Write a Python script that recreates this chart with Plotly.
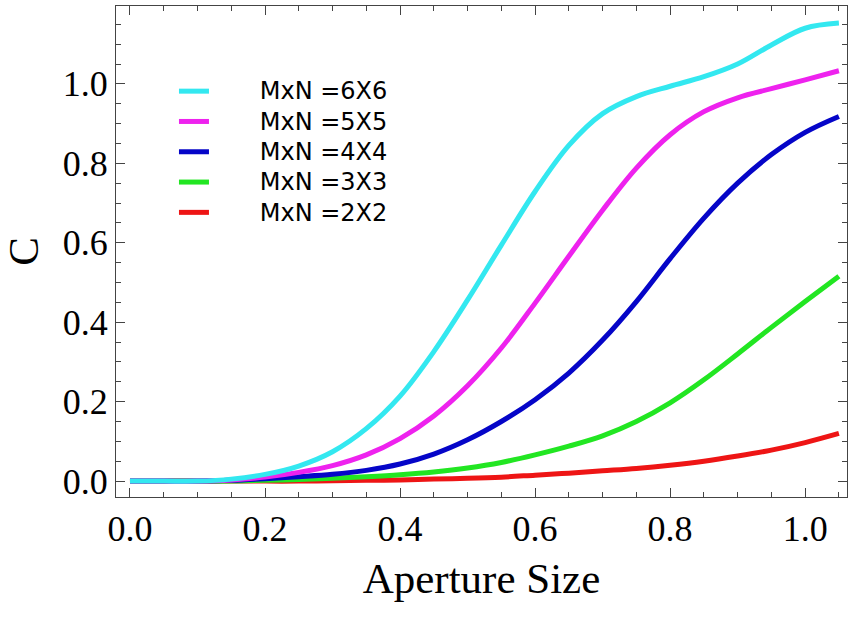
import plotly.graph_objects as go

# aperture sizes (x grid) and C values
aperture = [0.0, 0.05, 0.1, 0.15, 0.2, 0.25, 0.3, 0.35, 0.4, 0.45, 0.5,
            0.55, 0.6, 0.65, 0.7, 0.75, 0.8, 0.85, 0.9, 0.95, 1.0, 1.05]

c_2x2 = [0.0, 0.0, 0.0, 0.0, 0.0, 0.0, 0.001, 0.002, 0.003, 0.005, 0.007,
         0.010, 0.015, 0.020, 0.026, 0.032, 0.040, 0.050, 0.063, 0.078, 0.097, 0.120]
c_3x3 = [0.0, 0.0, 0.0, 0.0, 0.002, 0.004, 0.007, 0.011, 0.016, 0.023, 0.033,
         0.047, 0.066, 0.088, 0.114, 0.150, 0.197, 0.255, 0.320, 0.387, 0.452, 0.516]
c_4x4 = [0.0, 0.0, 0.0, 0.002, 0.006, 0.011, 0.017, 0.027, 0.043, 0.068, 0.104,
         0.150, 0.205, 0.272, 0.355, 0.452, 0.560, 0.662, 0.750, 0.822, 0.878, 0.918]
c_5x5 = [0.0, 0.0, 0.0, 0.003, 0.010, 0.022, 0.039, 0.066, 0.107, 0.164, 0.240,
         0.335, 0.448, 0.566, 0.682, 0.788, 0.872, 0.930, 0.965, 0.988, 1.010, 1.033]
c_6x6 = [0.0, 0.0, 0.0, 0.005, 0.017, 0.038, 0.074, 0.132, 0.214, 0.326, 0.456,
         0.594, 0.729, 0.845, 0.925, 0.968, 0.994, 1.018, 1.050, 1.098, 1.140, 1.153]

labels = ["MxN =2X2", "MxN =3X3", "MxN =4X4", "MxN =5X5", "MxN =6X6"]
series = [c_2x2, c_3x3, c_4x4, c_5x5, c_6x6]
colors = ["#ee1515", "#22e622", "#0505c8", "#ee22ee", "#33e8f0"]

gap = "\u00a0" * 6  # push legend text away from the line sample, as in the original
fig = go.Figure()
for name, vals, col in zip(labels, series, colors):
    fig.add_trace(go.Scatter(
        x=aperture, y=vals, mode="lines",
        name='<span style="font-size:24px">' + gap + name + "</span>",
        line=dict(color=col, width=5, shape="spline", smoothing=1.0),
    ))

axis_style = dict(
    showline=True, linecolor="#444", linewidth=1, mirror="allticks",
    ticks="inside", ticklen=9, tickwidth=1, tickcolor="#444",
    showgrid=False, zeroline=False,
    tickfont=dict(family="Liberation Serif", size=36, color="black"),
    minor=dict(dtick=0.05, ticks="inside", ticklen=5, tickcolor="#444", showgrid=False),
)

fig.update_xaxes(range=[-0.0207, 1.062], dtick=0.2, tick0=0, tickformat=".1f",
                 title=dict(text="Aperture Size", standoff=14,
                            font=dict(family="Liberation Serif", size=43, color="black")),
                 **axis_style)
fig.update_yaxes(range=[-0.040, 1.196], dtick=0.2, tick0=0, tickformat=".1f",
                 title=dict(text="C", standoff=18,
                            font=dict(family="Liberation Serif", size=43, color="black")),
                 **axis_style)

fig.update_layout(
    width=852, height=617,
    margin=dict(l=116, r=5, t=6, b=120, autoexpand=False),
    plot_bgcolor="white", paper_bgcolor="white",
    legend=dict(x=0.0793, y=0.8676, xanchor="left", yanchor="top",
                traceorder="reversed", itemwidth=30,
                font=dict(family="DejaVu Sans", size=21, color="black"),
                bgcolor="rgba(0,0,0,0)"),
)

fig.write_html("out.html", config={"displayModeBar": False},
               post_script="document.body.style.margin='0px';")
